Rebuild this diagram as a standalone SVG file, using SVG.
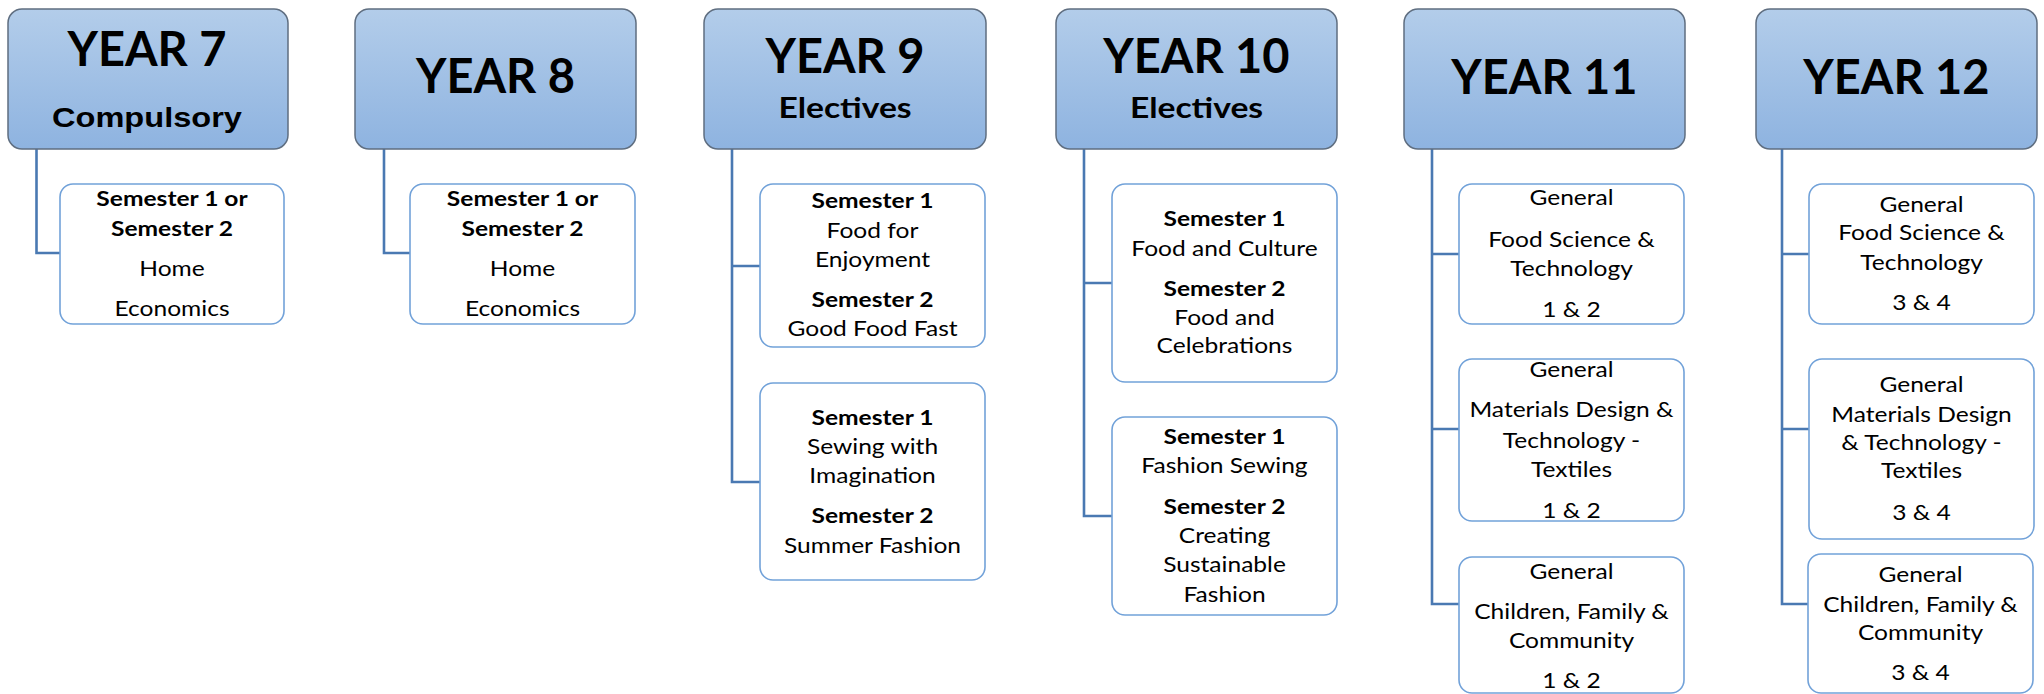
<svg xmlns="http://www.w3.org/2000/svg" width="2044" height="694" viewBox="0 0 2044 694">
<defs>
<linearGradient id="hg" x1="0" y1="0" x2="0" y2="1">
<stop offset="0" stop-color="#b3cdea"/>
<stop offset="1" stop-color="#8eb3e0"/>
</linearGradient>
<style>
.hd{fill:url(#hg);stroke:#5f6e80;stroke-width:1.5}
.ch{fill:#ffffff;stroke:#72a2d9;stroke-width:1.6}
.cn{fill:none;stroke:#4a79b2;stroke-width:2.6}
text{font-family:Lato,"Liberation Sans",sans-serif;fill:#000;text-anchor:middle}
.yr{font-size:47px;font-weight:700}
.sub{font-size:28px;font-weight:700}
.cmp{font-family:"Liberation Sans",Arial,sans-serif;font-size:27px;font-weight:700}
.b{font-size:21px;font-weight:700}
.r{font-size:21px;font-weight:400}
</style>
</defs>
<g id="connectors">
<path class="cn" d="M36.5,149 V253 H60"/>
<path class="cn" d="M384,149 V253 H410"/>
<path class="cn" d="M732,149 V482 H760 M732,266 H760"/>
<path class="cn" d="M1084,149 V516 H1112 M1084,283 H1112"/>
<path class="cn" d="M1432,149 V604 H1459 M1432,254 H1459 M1432,429 H1459"/>
<path class="cn" d="M1782,149 V604 H1809 M1782,254 H1809 M1782,429 H1809"/>
</g>
<g id="year7">
<rect class="hd" x="8" y="9" width="280" height="140" rx="14"/>
<text class="yr" x="147" y="66">YEAR 7</text>
<text class="cmp" x="147" y="127" textLength="190" lengthAdjust="spacingAndGlyphs">Compulsory</text>
</g>
<g id="year7-c1">
<rect class="ch" x="60" y="184" width="224" height="140" rx="13"/>
<g transform="matrix(1.17 0 0 1 172 0)">
<text class="b" x="0" y="206">Semester 1 or</text>
<text class="b" x="0" y="236">Semester 2</text>
<text class="r" x="0" y="276">Home</text>
<text class="r" x="0" y="316">Economics</text>
</g>
</g>
<g id="year8">
<rect class="hd" x="355" y="9" width="281" height="140" rx="14"/>
<text class="yr" x="495.5" y="93">YEAR 8</text>
</g>
<g id="year8-c1">
<rect class="ch" x="410" y="184" width="225" height="140" rx="13"/>
<g transform="matrix(1.17 0 0 1 522.5 0)">
<text class="b" x="0" y="206">Semester 1 or</text>
<text class="b" x="0" y="236">Semester 2</text>
<text class="r" x="0" y="276">Home</text>
<text class="r" x="0" y="316">Economics</text>
</g>
</g>
<g id="year9">
<rect class="hd" x="704" y="9" width="282" height="140" rx="14"/>
<text class="yr" x="845" y="73">YEAR 9</text>
<g transform="matrix(1.2 0 0 1 845 0)"><text class="sub" x="0" y="118">Electives</text></g>
</g>
<g id="year9-c1">
<rect class="ch" x="760" y="184" width="225" height="163" rx="13"/>
<g transform="matrix(1.17 0 0 1 872.5 0)">
<text class="b" x="0" y="208">Semester 1</text>
<text class="r" x="0" y="238">Food for</text>
<text class="r" x="0" y="267">Enjoyment</text>
<text class="b" x="0" y="307">Semester 2</text>
<text class="r" x="0" y="336">Good Food Fast</text>
</g>
</g>
<g id="year9-c2">
<rect class="ch" x="760" y="383" width="225" height="197" rx="13"/>
<g transform="matrix(1.17 0 0 1 872.5 0)">
<text class="b" x="0" y="425">Semester 1</text>
<text class="r" x="0" y="454">Sewing with</text>
<text class="r" x="0" y="483">Imagination</text>
<text class="b" x="0" y="523">Semester 2</text>
<text class="r" x="0" y="553">Summer Fashion</text>
</g>
</g>
<g id="year10">
<rect class="hd" x="1056" y="9" width="281" height="140" rx="14"/>
<text class="yr" x="1196.5" y="73">YEAR 10</text>
<g transform="matrix(1.2 0 0 1 1196.5 0)"><text class="sub" x="0" y="118">Electives</text></g>
</g>
<g id="year10-c1">
<rect class="ch" x="1112" y="184" width="225" height="198" rx="13"/>
<g transform="matrix(1.17 0 0 1 1224.5 0)">
<text class="b" x="0" y="226">Semester 1</text>
<text class="r" x="0" y="256">Food and Culture</text>
<text class="b" x="0" y="296">Semester 2</text>
<text class="r" x="0" y="325">Food and</text>
<text class="r" x="0" y="353">Celebrations</text>
</g>
</g>
<g id="year10-c2">
<rect class="ch" x="1112" y="417" width="225" height="198" rx="13"/>
<g transform="matrix(1.17 0 0 1 1224.5 0)">
<text class="b" x="0" y="444">Semester 1</text>
<text class="r" x="0" y="473">Fashion Sewing</text>
<text class="b" x="0" y="514">Semester 2</text>
<text class="r" x="0" y="543">Creating</text>
<text class="r" x="0" y="572">Sustainable</text>
<text class="r" x="0" y="602">Fashion</text>
</g>
</g>
<g id="year11">
<rect class="hd" x="1404" y="9" width="281" height="140" rx="14"/>
<text class="yr" x="1544.5" y="94">YEAR 11</text>
</g>
<g id="year11-c1">
<rect class="ch" x="1459" y="184" width="225" height="140" rx="13"/>
<g transform="matrix(1.17 0 0 1 1571.5 0)">
<text class="r" x="0" y="205">General</text>
<text class="r" x="0" y="247">Food Science &amp;</text>
<text class="r" x="0" y="276">Technology</text>
<text class="r" x="0" y="317">1 &amp; 2</text>
</g>
</g>
<g id="year11-c2">
<rect class="ch" x="1459" y="359" width="225" height="162" rx="13"/>
<g transform="matrix(1.17 0 0 1 1571.5 0)">
<text class="r" x="0" y="377">General</text>
<text class="r" x="0" y="417">Materials Design &amp;</text>
<text class="r" x="0" y="448">Technology -</text>
<text class="r" x="0" y="477">Textiles</text>
<text class="r" x="0" y="518">1 &amp; 2</text>
</g>
</g>
<g id="year11-c3">
<rect class="ch" x="1459" y="557" width="225" height="136" rx="13"/>
<g transform="matrix(1.17 0 0 1 1571.5 0)">
<text class="r" x="0" y="579">General</text>
<text class="r" x="0" y="619">Children, Family &amp;</text>
<text class="r" x="0" y="648">Community</text>
<text class="r" x="0" y="688">1 &amp; 2</text>
</g>
</g>
<g id="year12">
<rect class="hd" x="1756" y="9" width="281" height="140" rx="14"/>
<text class="yr" x="1896.5" y="94">YEAR 12</text>
</g>
<g id="year12-c1">
<rect class="ch" x="1809" y="184" width="225" height="140" rx="13"/>
<g transform="matrix(1.17 0 0 1 1921.5 0)">
<text class="r" x="0" y="212">General</text>
<text class="r" x="0" y="240">Food Science &amp;</text>
<text class="r" x="0" y="270">Technology</text>
<text class="r" x="0" y="310">3 &amp; 4</text>
</g>
</g>
<g id="year12-c2">
<rect class="ch" x="1809" y="359" width="225" height="180" rx="13"/>
<g transform="matrix(1.17 0 0 1 1921.5 0)">
<text class="r" x="0" y="392">General</text>
<text class="r" x="0" y="422">Materials Design</text>
<text class="r" x="0" y="450">&amp; Technology -</text>
<text class="r" x="0" y="478">Textiles</text>
<text class="r" x="0" y="520">3 &amp; 4</text>
</g>
</g>
<g id="year12-c3">
<rect class="ch" x="1808" y="554" width="225" height="139" rx="13"/>
<g transform="matrix(1.17 0 0 1 1920.5 0)">
<text class="r" x="0" y="582">General</text>
<text class="r" x="0" y="612">Children, Family &amp;</text>
<text class="r" x="0" y="640">Community</text>
<text class="r" x="0" y="680">3 &amp; 4</text>
</g>
</g>
</svg>
